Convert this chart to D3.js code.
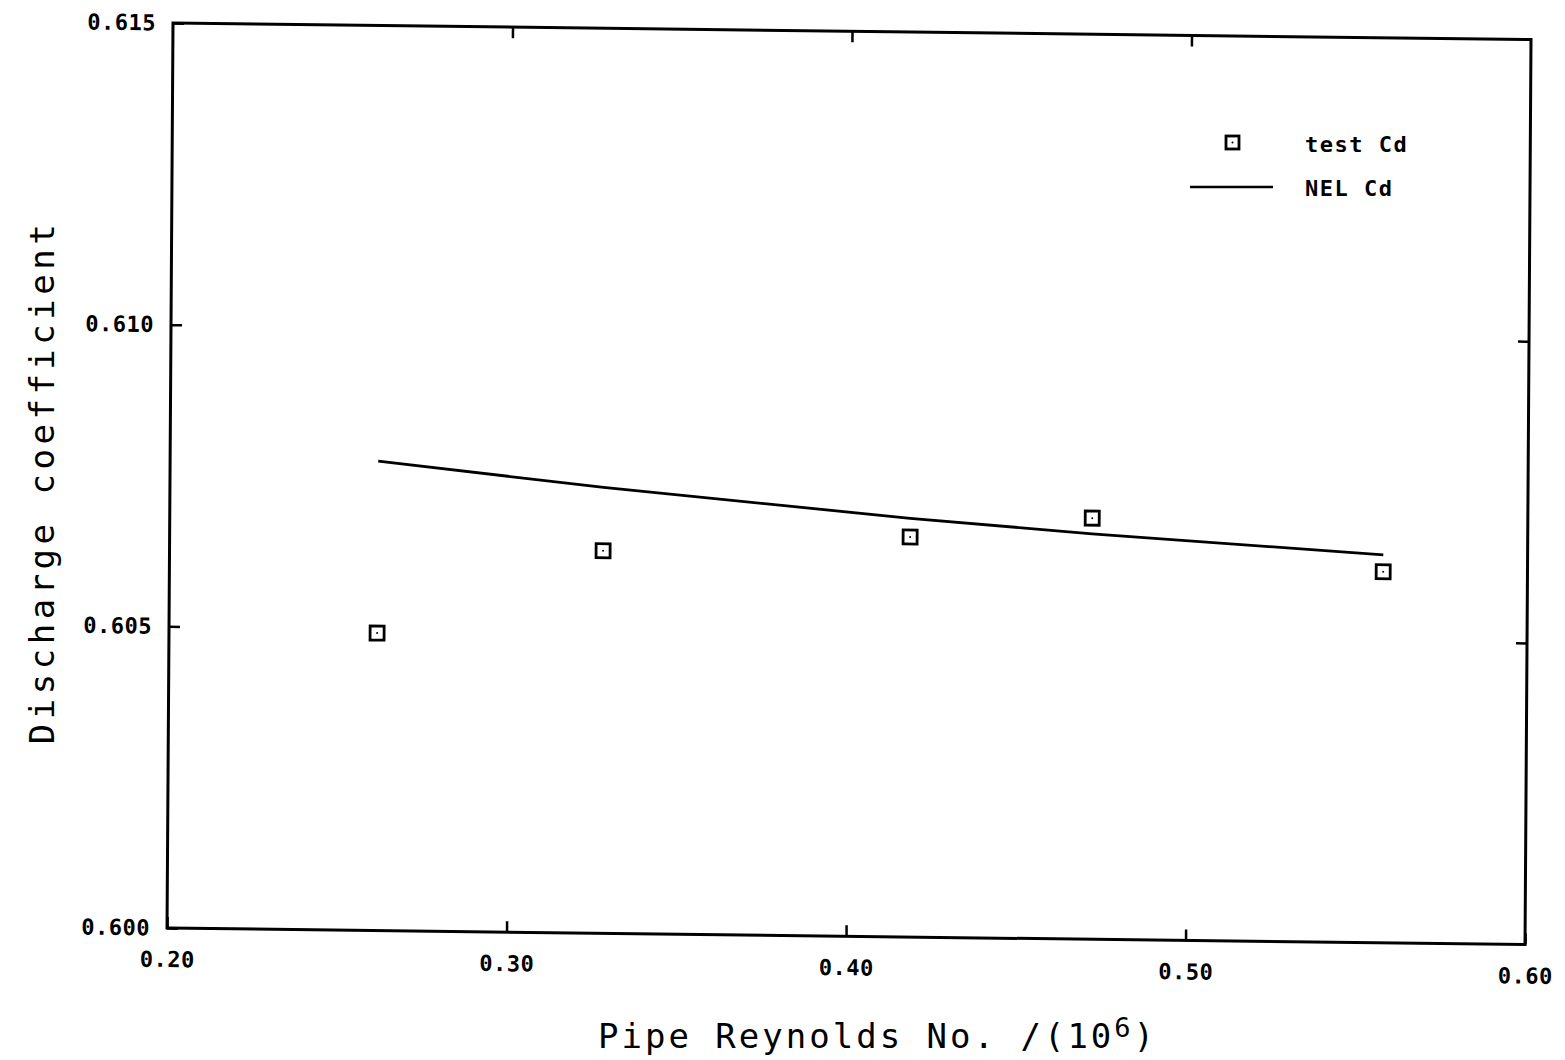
<!DOCTYPE html>
<html>
<head>
<meta charset="utf-8">
<script src="https://cdn.jsdelivr.net/npm/d3@7"></script>
<style>
  body { margin: 0; background: #fff; }
  svg { display: block; }
  .tick text { font-family: "DejaVu Sans Mono", monospace; font-weight: bold; font-size: 22px; letter-spacing: 0.5px; fill: #000; }
  .tick line { stroke: #000; stroke-width: 2.5px; }
  .title { font-family: "DejaVu Sans Mono", monospace; font-size: 34px; fill: #000; }
  .legend { font-family: "DejaVu Sans Mono", monospace; font-weight: bold; font-size: 22px; letter-spacing: 1.5px; fill: #000; }
</style>
</head>
<body>
<svg id="chart"></svg>
<script>
// data
var reynolds = [0.2613, 0.3277, 0.4181, 0.4717, 0.5575];
var testCd = [0.60493, 0.60634, 0.60663, 0.60698, 0.60615];
var nelCd = [0.60778, 0.60739, 0.60694, 0.60672, 0.60643];
var xTicks = [0.20, 0.30, 0.40, 0.50, 0.60];
var yTicks = [0.600, 0.605, 0.610, 0.615];

var fullW = 1565, fullH = 1060;
var width = 1358, height = 905;

var svg = d3.select("#chart")
    .attr("width", fullW)
    .attr("height", fullH);

// the scan is a little sheared, so the plot frame gets a matrix instead of a plain translate
var g = svg.append("g")
    .attr("transform", "matrix(1,0.0122,-0.0066,1,173,23)");

var x = d3.scaleLinear().domain([0.20, 0.60]).range([0, width]);
var y = d3.scaleLinear().domain([0.600, 0.615]).range([height, 0]);

// ticks point inwards on all four sides
g.append("g")
    .attr("transform", "translate(0," + height + ")")
    .call(d3.axisBottom(x).tickValues(xTicks).tickFormat(d3.format(".2f")).tickSizeInner(-11).tickSizeOuter(0).tickPadding(39))
    .call(function (a) { a.select(".domain").remove(); a.selectAll("text").attr("dy", "0"); });

g.append("g")
    .call(d3.axisTop(x).tickValues(xTicks.slice(1, -1)).tickFormat("").tickSizeInner(-11).tickSizeOuter(0))
    .call(function (a) { a.select(".domain").remove(); });

g.append("g")
    .call(d3.axisLeft(y).tickValues(yTicks).tickFormat(d3.format(".3f")).tickSizeInner(-11).tickSizeOuter(0).tickPadding(17))
    .call(function (a) { a.select(".domain").remove(); });

g.append("g")
    .attr("transform", "translate(" + width + ",0)")
    .call(d3.axisRight(y).tickValues(yTicks.slice(1, -1)).tickFormat("").tickSizeInner(-11).tickSizeOuter(0))
    .call(function (a) { a.select(".domain").remove(); });

g.append("rect")
    .attr("x", 0).attr("y", 0)
    .attr("width", width).attr("height", height)
    .attr("fill", "none")
    .attr("stroke", "#000")
    .attr("stroke-width", 3);

// NEL curve
var line = d3.line()
    .x(function (d, i) { return x(reynolds[i]); })
    .y(function (d) { return y(d); });

g.append("path")
    .datum(nelCd)
    .attr("d", line)
    .attr("fill", "none")
    .attr("stroke", "#000")
    .attr("stroke-width", 2.8);

// test points
var pts = g.selectAll(".pt")
    .data(testCd)
    .enter().append("g")
    .attr("class", "pt")
    .attr("transform", function (d, i) { return "translate(" + x(reynolds[i]) + "," + y(d) + ")"; });

pts.append("rect")
    .attr("x", -7).attr("y", -7)
    .attr("width", 14).attr("height", 14)
    .attr("fill", "#fff")
    .attr("stroke", "#000")
    .attr("stroke-width", 2.8);

pts.append("circle")
    .attr("r", 1)
    .attr("fill", "#000");

// legend
var leg = svg.append("g");
leg.append("rect")
    .attr("x", 1226).attr("y", 136)
    .attr("width", 13).attr("height", 13)
    .attr("fill", "#fff")
    .attr("stroke", "#000")
    .attr("stroke-width", 2.8);
leg.append("circle").attr("cx", 1232.5).attr("cy", 142.5).attr("r", 1).attr("fill", "#000");
leg.append("text").attr("class", "legend").attr("x", 1305).attr("y", 152).text("test Cd");
leg.append("line")
    .attr("x1", 1190).attr("x2", 1273)
    .attr("y1", 187).attr("y2", 187)
    .attr("stroke", "#000")
    .attr("stroke-width", 2.5);
leg.append("text").attr("class", "legend").attr("x", 1305).attr("y", 196).text("NEL Cd");

// axis titles
svg.append("text")
    .attr("class", "title")
    .attr("transform", "translate(54,482) rotate(-90)")
    .attr("text-anchor", "middle")
    .style("letter-spacing", "4.5px")
    .text("Discharge coefficient");

var xt = svg.append("text")
    .attr("class", "title")
    .attr("x", 598).attr("y", 1048)
    .style("letter-spacing", "3px");
xt.append("tspan").text("Pipe Reynolds No. /(10");
xt.append("tspan").attr("dy", -11).style("font-size", "27px").text("6");
xt.append("tspan").attr("dy", 11).text(")");
</script>
</body>
</html>
